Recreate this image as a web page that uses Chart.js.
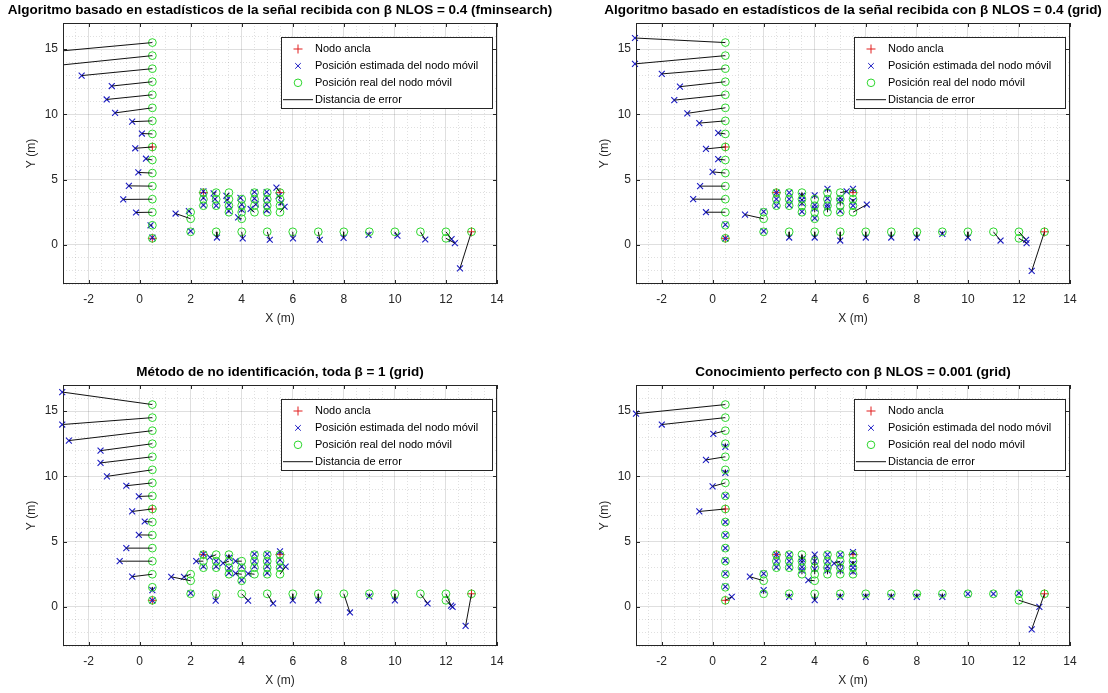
<!DOCTYPE html>
<html>
<head>
<meta charset="utf-8">
<title>Localización del nodo móvil</title>
<script src="https://cdn.jsdelivr.net/npm/chart.js@4.4.1/dist/chart.umd.min.js"></script>
<style>
  html, body { margin: 0; padding: 0; background: #fff; overflow: hidden; }
  body { width: 1108px; height: 693px; position: relative; }
  canvas { position: absolute; }
</style>
</head>
<body>
<canvas id="chart-fminsearch" width="560" height="346" style="left:0;top:0"></canvas>
<canvas id="chart-grid" width="560" height="346" style="left:573px;top:0"></canvas>
<canvas id="chart-no-id" width="560" height="346" style="left:0;top:362px"></canvas>
<canvas id="chart-perfect" width="560" height="346" style="left:573px;top:362px"></canvas>
<script>
// Anchor nodes
const anchorX = [0.5, 0.5, 2.5, 5.5, 13];
const anchorY = [7.5, 0.5, 4, 4, 1];

// Real trajectory of the mobile node (same for the four methods)
const realX = [0.5, 0.5, 0.5, 0.5, 0.5, 0.5, 0.5, 0.5, 0.5, 0.5, 0.5, 0.5, 0.5, 0.5, 0.5, 0.5,
  2, 2, 2,
  2.5, 2.5, 2.5, 3, 3, 3, 3.5, 3.5, 3.5, 3.5, 4, 4, 4, 4,
  4.5, 4.5, 4.5, 4.5, 5, 5, 5, 5, 5.5, 5.5, 5.5, 5.5,
  3, 4, 5, 6, 7, 8, 9, 10, 11, 12, 12, 13];
const realY = [15.5, 14.5, 13.5, 12.5, 11.5, 10.5, 9.5, 8.5, 7.5, 6.5, 5.5, 4.5, 3.5, 2.5, 1.5, 0.5,
  2.5, 2, 1,
  4, 3.5, 3, 4, 3.5, 3, 4, 3.5, 3, 2.5, 3.5, 3, 2.5, 2,
  4, 3.5, 3, 2.5, 4, 3.5, 3, 2.5, 4, 3.5, 3, 2.5,
  1, 1, 1, 1, 1, 1, 1, 1, 1, 1, 0.5, 1];

// Estimated positions, statistics based algorithm, beta NLOS = 0.4 (fminsearch)
const estFminX = [-4, -4, -2.27, -1.09, -1.29, -0.96, -0.29, 0.09, -0.17, 0.25, -0.05, -0.42, -0.64, -0.14, 0.43, 0.5,
  1.93, 1.41, 2.0,
  2.5, 2.5, 2.5, 2.9, 2.95, 3.0, 3.4, 3.42, 3.5, 3.49, 3.95, 4.0, 4.0, 3.86,
  4.5, 4.5, 4.55, 4.35, 4.98, 4.98, 4.98, 4.98, 5.36, 5.45, 5.55, 5.68,
  3.03, 4.04, 5.1, 6.01, 7.06, 7.99, 8.97, 10.1, 11.19, 12.22, 12.35, 12.55];
const estFminY = [14.69, 13.59, 12.97, 12.17, 11.14, 10.11, 9.44, 8.53, 7.4, 6.6, 5.55, 4.52, 3.48, 2.48, 1.5, 0.55,
  2.58, 2.4, 1.05,
  4.1, 3.6, 3.05, 3.95, 3.5, 3.0, 3.75, 3.45, 3.05, 2.6, 3.6, 3.1, 2.7, 2.1,
  4.05, 3.55, 3.1, 2.75, 4.05, 3.6, 3.1, 2.65, 4.38, 3.75, 3.25, 2.92,
  0.56, 0.49, 0.39, 0.49, 0.39, 0.54, 0.77, 0.7, 0.41, 0.44, 0.13, -1.8];

// Estimated positions, statistics based algorithm, beta NLOS = 0.4 (grid)
const estGridX = [-3.04, -3.04, -1.99, -1.28, -1.5, -0.99, -0.52, 0.22, -0.26, 0.22, 0.0, -0.49, -0.76, -0.26, 0.5, 0.5,
  2.0, 1.27, 2.0,
  2.5, 2.5, 2.5, 3.0, 3.0, 3.0, 3.5, 3.5, 3.5, 3.5, 4.0, 4.0, 4.0, 4.0,
  4.5, 4.5, 4.5, 4.5, 5.25, 5.0, 5.0, 5.0, 5.5, 5.5, 5.5, 6.04,
  3.0, 4.0, 5.0, 6.0, 7.0, 8.0, 9.0, 10.0, 11.28, 12.28, 12.3, 12.5];
const estGridY = [15.85, 13.87, 13.1, 12.12, 11.09, 10.08, 9.33, 8.58, 7.35, 6.57, 5.59, 4.5, 3.5, 2.5, 1.55, 0.5,
  2.55, 2.32, 1.05,
  4.0, 3.5, 3.0, 4.0, 3.5, 3.05, 3.75, 3.45, 3.2, 2.55, 3.8, 3.05, 2.8, 2.05,
  4.3, 3.55, 3.05, 2.85, 4.1, 3.6, 3.35, 2.6, 4.3, 3.35, 3.0, 3.09,
  0.56, 0.56, 0.33, 0.56, 0.56, 0.56, 0.84, 0.56, 0.33, 0.39, 0.13, -2.0];

// Estimated positions, no identification, beta = 1 everywhere (grid)
const estNoIdX = [-3.03, -3.03, -2.77, -1.53, -1.53, -1.28, -0.52, -0.03, -0.29, 0.2, -0.03, -0.52, -0.78, -0.29, 0.5, 0.5,
  1.74, 1.24, 2.0,
  2.5, 2.22, 2.5, 2.75, 3.0, 3.0, 3.5, 3.27, 3.5, 3.5, 3.76, 4.0, 3.76, 4.0,
  4.5, 4.5, 4.5, 4.25, 5.0, 5.0, 5.0, 5.0, 5.5, 5.5, 5.5, 5.72,
  2.98, 4.25, 5.23, 6.0, 7.0, 8.24, 9.0, 10.0, 11.28, 12.2, 12.26, 12.77];
const estNoIdY = [16.46, 13.97, 12.74, 11.97, 11.03, 10.0, 9.28, 8.46, 7.31, 6.54, 5.51, 4.5, 3.5, 2.31, 1.28, 0.5,
  2.3, 2.3, 1.05,
  4.05, 3.5, 3.1, 3.8, 3.5, 3.1, 3.75, 3.35, 2.95, 2.6, 3.5, 3.1, 2.56, 2.05,
  4.05, 3.5, 3.1, 2.55, 4.05, 3.5, 3.1, 2.6, 4.25, 3.6, 3.1, 3.08,
  0.48, 0.48, 0.26, 0.5, 0.5, -0.43, 0.8, 0.5, 0.26, 0.1, 0.0, -1.46];

// Estimated positions, perfect knowledge, beta NLOS = 0.001 (grid)
const estPerfectX = [-3.0, -1.99, 0.03, 0.5, -0.26, 0.5, 0.0, 0.5, -0.52, 0.5, 0.5, 0.5, 0.5, 0.5, 0.5, 0.75,
  2.0, 1.46, 2.0,
  2.5, 2.5, 2.5, 3.0, 3.0, 3.0, 3.5, 3.5, 3.5, 3.5, 4.0, 4.0, 4.0, 3.75,
  4.5, 4.5, 4.5, 4.5, 5.0, 4.76, 5.0, 5.0, 5.5, 5.5, 5.5, 5.5,
  3.0, 4.0, 5.0, 6.0, 7.0, 8.0, 9.0, 10.0, 11.0, 12.0, 12.8, 12.5];
const estPerfectY = [14.8, 13.97, 13.26, 12.26, 11.26, 10.26, 9.23, 8.5, 7.31, 6.5, 5.5, 4.5, 3.55, 2.55, 1.55, 0.77,
  2.55, 2.31, 1.28,
  4.0, 3.5, 3.05, 4.0, 3.5, 3.05, 3.65, 3.45, 3.05, 2.8, 4.0, 3.5, 2.9, 2.05,
  4.0, 3.5, 3.1, 2.8, 4.0, 3.33, 3.3, 2.8, 4.2, 3.3, 3.0, 2.7,
  0.77, 0.51, 0.77, 0.77, 0.77, 0.77, 0.77, 1.0, 1.0, 1.05, 0.0, -1.72];

// Axis limits and tick spacing
const xLimits = [-3, 14];
const yLimits = [-3, 17];
const xMajorStep = 2, xMinorStep = 0.5;
const yMajorStep = 5, yMinorStep = 1;

const FONT = "'Liberation Sans', Arial, Helvetica, sans-serif";
const AXIS_COLOR = '#262626';
const ANCHOR_COLOR = 'rgb(225,30,30)';
const EST_COLOR = 'rgb(28,28,195)';
const REAL_COLOR = 'rgb(45,215,45)';

function toPoints(xs, ys) {
    return xs.map((x, i) => ({x: x, y: ys[i]}));
}

// One segment per real/estimated pair, separated by gaps
function errorSegments(estX, estY) {
    const segs = [];
    realX.forEach((x, i) => {
        segs.push({x: x, y: realY[i]});
        segs.push({x: estX[i], y: estY[i]});
        segs.push({x: null, y: null});
    });
    return segs;
}

function isMajor(value, step) {
    return Math.abs(value / step - Math.round(value / step)) < 1e-9;
}

// Box around the axes with small inward ticks on the four sides
const axesBox = {
    id: 'axesBox',
    afterDatasetsDraw(chart) {
        const {ctx, chartArea: a, scales} = chart;
        ctx.save();
        ctx.strokeStyle = AXIS_COLOR;
        ctx.lineWidth = 1;
        ctx.beginPath();
        scales.x.ticks.forEach(t => {
            if (!isMajor(t.value, xMajorStep)) return;
            const px = Math.round(scales.x.getPixelForValue(t.value)) + 0.5;
            ctx.moveTo(px, a.bottom); ctx.lineTo(px, a.bottom - 4);
            ctx.moveTo(px, a.top); ctx.lineTo(px, a.top + 4);
        });
        scales.y.ticks.forEach(t => {
            if (!isMajor(t.value, yMajorStep)) return;
            const py = Math.round(scales.y.getPixelForValue(t.value)) + 0.5;
            ctx.moveTo(a.left, py); ctx.lineTo(a.left + 4, py);
            ctx.moveTo(a.right, py); ctx.lineTo(a.right - 4, py);
        });
        ctx.stroke();
        ctx.strokeRect(Math.round(a.left) + 0.5, Math.round(a.top) + 0.5,
            Math.round(a.right - a.left) - 1, Math.round(a.bottom - a.top) - 1);
        ctx.restore();
    }
};

// Legend drawn inside the axes, top right corner
const boxLegend = {
    id: 'boxLegend',
    afterDraw(chart) {
        const {ctx, chartArea} = chart;
        const w = 212, h = 72;
        const left = Math.round(chartArea.right - 4 - w), top = Math.round(chartArea.top + 14);
        ctx.save();
        ctx.fillStyle = '#fff';
        ctx.fillRect(left, top, w, h);
        ctx.strokeStyle = AXIS_COLOR;
        ctx.lineWidth = 1;
        ctx.strokeRect(left + 0.5, top + 0.5, w - 1, h - 1);
        ctx.font = '11px ' + FONT;
        ctx.textBaseline = 'middle';
        chart.data.datasets.forEach((ds, i) => {
            const y = top + 12 + i * 16.9;
            const mx = left + 17;
            ctx.strokeStyle = ds.borderColor;
            ctx.lineWidth = 1;
            ctx.beginPath();
            if (ds.showLine) {
                ctx.moveTo(left + 2, y); ctx.lineTo(left + 32, y);
            } else if (ds.pointStyle === 'cross') {
                ctx.moveTo(mx - 4.5, y); ctx.lineTo(mx + 4.5, y);
                ctx.moveTo(mx, y - 4.5); ctx.lineTo(mx, y + 4.5);
            } else if (ds.pointStyle === 'crossRot') {
                ctx.moveTo(mx - 2.8, y - 2.8); ctx.lineTo(mx + 2.8, y + 2.8);
                ctx.moveTo(mx + 2.8, y - 2.8); ctx.lineTo(mx - 2.8, y + 2.8);
            } else {
                ctx.arc(mx, y, 3.8, 0, Math.PI * 2);
            }
            ctx.stroke();
            ctx.fillStyle = '#000';
            ctx.fillText(ds.label, left + 34, y);
        });
        ctx.restore();
    }
};

function drawPanel(canvasId, title, estX, estY) {
    const canvas = document.getElementById(canvasId);
    const tickFont = {family: FONT, size: 12};
    const majorGrid = 'rgba(38,38,38,0.15)';
    const minorGrid = 'rgba(38,38,38,0.14)';

    new Chart(canvas.getContext('2d'), {
        type: 'scatter',
        data: {
            datasets: [{
                label: 'Nodo ancla',
                data: toPoints(anchorX, anchorY),
                pointStyle: 'cross',
                pointRadius: 4.5,
                borderColor: ANCHOR_COLOR,
                borderWidth: 1,
                clip: 5,
                order: 4
            }, {
                label: 'Posición estimada del nodo móvil',
                data: toPoints(estX, estY),
                pointStyle: 'crossRot',
                pointRadius: 4.2,
                borderColor: EST_COLOR,
                borderWidth: 1.1,
                clip: 5,
                order: 3
            }, {
                label: 'Posición real del nodo móvil',
                data: toPoints(realX, realY),
                pointStyle: 'circle',
                pointRadius: 3.9,
                borderColor: REAL_COLOR,
                backgroundColor: 'rgba(0,0,0,0)',
                borderWidth: 1,
                clip: 5,
                order: 2
            }, {
                label: 'Distancia de error',
                data: errorSegments(estX, estY),
                showLine: true,
                spanGaps: false,
                pointRadius: 0,
                borderColor: '#111',
                borderWidth: 1,
                clip: 0,
                order: 1
            }]
        },
        options: {
            responsive: false,
            animation: false,
            events: [],
            devicePixelRatio: 1,
            layout: {padding: 0},
            plugins: {
                legend: {display: false},
                tooltip: {enabled: false},
                title: {
                    display: true,
                    text: title,
                    color: '#000',
                    font: {family: FONT, size: 13.5, weight: 'bold'},
                    padding: {top: 2, bottom: 4.8}
                }
            },
            scales: {
                x: {
                    type: 'linear',
                    min: xLimits[0],
                    max: xLimits[1],
                    afterFit: s => { s.height = 62; },
                    ticks: {
                        stepSize: xMinorStep,
                        autoSkip: false,
                        maxRotation: 0,
                        padding: 8,
                        font: tickFont,
                        color: AXIS_COLOR,
                        callback: v => isMajor(v, xMajorStep) ? String(v) : ''
                    },
                    grid: {
                        drawTicks: false,
                        color: ctx => ctx.tick && isMajor(ctx.tick.value, xMajorStep) ? majorGrid : minorGrid
                    },
                    border: {
                        display: false,
                        dash: ctx => ctx.tick && !isMajor(ctx.tick.value, xMajorStep) ? [1, 2] : []
                    },
                    title: {
                        display: true,
                        text: 'X (m)',
                        color: AXIS_COLOR,
                        font: tickFont,
                        padding: {top: 0, bottom: 19.8}
                    }
                },
                y: {
                    type: 'linear',
                    min: yLimits[0],
                    max: yLimits[1],
                    afterFit: s => { s.width = 63; },
                    ticks: {
                        stepSize: yMinorStep,
                        autoSkip: false,
                        padding: 5,
                        font: tickFont,
                        color: AXIS_COLOR,
                        callback: v => isMajor(v, yMajorStep) ? String(v) : ''
                    },
                    grid: {
                        drawTicks: false,
                        color: ctx => ctx.tick && isMajor(ctx.tick.value, yMajorStep) ? majorGrid : minorGrid
                    },
                    border: {
                        display: false,
                        dash: ctx => ctx.tick && !isMajor(ctx.tick.value, yMajorStep) ? [1, 2] : []
                    },
                    title: {
                        display: true,
                        text: 'Y (m)',
                        color: AXIS_COLOR,
                        font: tickFont,
                        padding: {top: 24.8, bottom: 0}
                    }
                },
                // empty right side so the title stays centred over the axes
                yRight: {
                    type: 'linear',
                    position: 'right',
                    min: yLimits[0],
                    max: yLimits[1],
                    afterFit: s => { s.width = 63; },
                    ticks: {display: false},
                    grid: {display: false},
                    border: {display: false}
                }
            }
        },
        plugins: [axesBox, boxLegend]
    });
}

drawPanel('chart-fminsearch', 'Algoritmo basado en estadísticos de la señal recibida con β NLOS = 0.4 (fminsearch)', estFminX, estFminY);
drawPanel('chart-grid', 'Algoritmo basado en estadísticos de la señal recibida con β NLOS = 0.4 (grid)', estGridX, estGridY);
drawPanel('chart-no-id', 'Método de no identificación, toda β = 1 (grid)', estNoIdX, estNoIdY);
drawPanel('chart-perfect', 'Conocimiento perfecto con β NLOS = 0.001 (grid)', estPerfectX, estPerfectY);
</script>
</body>
</html>
